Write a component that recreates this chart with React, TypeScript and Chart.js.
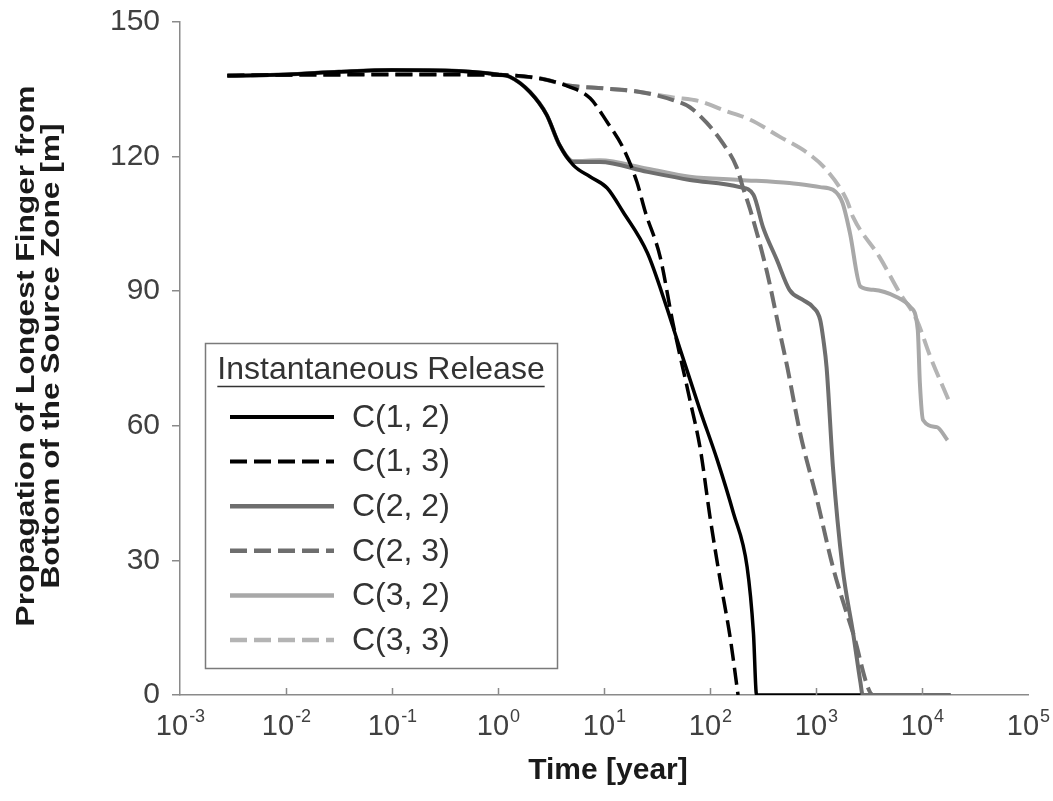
import React, { useEffect, useRef } from "react";
import { Chart, registerables } from "chart.js";

Chart.register(...registerables);

// ---- Data (time in years, propagation in m) ----
const LABELS = ["C(1, 2)", "C(1, 3)", "C(2, 2)", "C(2, 3)", "C(3, 2)", "C(3, 3)"];
const LEGEND_TITLE = "Instantaneous Release";
const X_TITLE = "Time [year]";
const Y_TITLE = ["Propagation of Longest Finger from", "Bottom of the Source Zone [m]"];
const X_DECADES = [1e-3, 1e-2, 1e-1, 1e0, 1e1, 1e2, 1e3, 1e4, 1e5];
const X_EXPONENTS = ["-3", "-2", "-1", "0", "1", "2", "3", "4", "5"];
const Y_TICKS = [0, 30, 60, 90, 120, 150];

const T_C12 = [0.0028, 0.01, 0.0316, 0.1, 0.316, 1, 1.29, 2.0, 2.88, 3.8, 5.13, 7.41, 10.7, 15.1, 25.7, 38.9, 49, 80.5, 117, 166, 224, 257, 275, 2630];
const V_C12 = [138, 138.3, 138.9, 139.3, 139.2, 138.3, 137.8, 134.4, 129.3, 122.6, 118.1, 115.5, 113, 107.7, 98.5, 86.5, 79.1, 63.5, 52.4, 40.6, 28.5, 13.8, 0, 0];

const T_C13 = [0.0028, 0.01, 0.1, 1, 2.5, 4.79, 7.41, 10.7, 15.1, 20.4, 24.5, 33.9, 44.7, 64.6, 81.3, 100, 124, 155, 184];
const V_C13 = [138.1, 138.2, 138.3, 138.2, 137.4, 135.5, 133, 127.7, 122, 114.4, 107.7, 97.6, 82.9, 65.8, 54.6, 39.7, 26, 12.8, 0];

const T_C22 = [0.0028, 0.01, 0.0316, 0.1, 0.316, 1, 1.29, 2.0, 2.88, 3.8, 5.13, 9.12, 25.7, 64.6, 191, 257, 316, 427, 562, 759, 933, 1096, 1175, 1259, 1445, 1778, 2239, 2630, 2754, 18600];
const V_C22 = [138, 138.3, 138.9, 139.3, 139.2, 138.3, 137.8, 134.4, 129.3, 122.6, 118.8, 118.8, 116.6, 114.8, 113.2, 111.5, 104.3, 97, 90.3, 88, 86.5, 83.6, 79.1, 73, 50.8, 28.5, 13.8, 2.7, 0, 0];

const T_C23 = [0.0028, 0.01, 0.1, 1, 2.5, 4.79, 10, 21.9, 44.7, 64.6, 93.3, 132, 178, 204, 240, 347, 457, 537, 708, 1023, 1445, 2239, 3467, 18600];
const V_C23 = [138.1, 138.2, 138.3, 138.2, 137.4, 135.8, 135.2, 134.4, 132.6, 131, 127.5, 123, 117.7, 113.2, 108.1, 94, 80.7, 73, 58.4, 43.5, 28.5, 13.8, 0, 0];

const T_C32 = [0.0028, 0.01, 0.0316, 0.1, 0.316, 1, 1.29, 2.0, 2.88, 3.8, 5.13, 9.12, 25.7, 64.6, 191, 562, 1096, 1445, 1778, 2089, 2630, 3467, 5754, 7762, 9120, 9550, 10230, 13800, 17400];
const V_C32 = [138, 138.3, 138.9, 139.3, 139.2, 138.3, 137.8, 134.4, 129.3, 122.6, 119, 119.2, 117.3, 115.5, 114.8, 114.1, 113.2, 112.6, 109.7, 103, 91, 90.3, 88.7, 86.5, 81.4, 69.5, 61.3, 59.7, 56.8];

const T_C33 = [0.0028, 0.01, 0.1, 1, 2.5, 4.79, 10, 21.9, 44.7, 81.3, 132, 240, 457, 832, 1259, 1950, 2239, 3981, 6166, 8913, 12020, 17780];
const V_C33 = [138.1, 138.2, 138.3, 138.2, 137.4, 135.8, 135.2, 134.4, 133.2, 132.3, 130.4, 128.2, 124.4, 120.8, 117, 110.3, 106.5, 97.6, 89.6, 83.6, 75.3, 65.8];

const SERIES_T = [T_C12, T_C13, T_C22, T_C23, T_C32, T_C33];
const SERIES_V = [V_C12, V_C13, V_C22, V_C23, V_C32, V_C33];
const COLORS = ["#000000", "#000000", "#6e6e6e", "#6e6e6e", "#a8a8a8", "#b4b4b4"];
const WIDTHS = [3.5, 3.5, 4, 4, 4, 4];
const DASHED = [false, true, false, true, false, true];

const FONT = "'Liberation Sans', Arial, sans-serif";
const AXIS_COLOR = "#8a8a8a";

const decorPlugin = {
  id: "decor",
  afterDraw(chart: any) {
    const ctx = chart.ctx as CanvasRenderingContext2D;
    const xs = chart.scales.x;
    const area = chart.chartArea;
    ctx.save();
    // inward x ticks
    ctx.strokeStyle = AXIS_COLOR;
    ctx.lineWidth = 1.5;
    X_DECADES.forEach((v, i) => {
      if (i === 0 || i === X_DECADES.length - 1) return;
      const px = Math.round(xs.getPixelForValue(v)) + 0.5;
      ctx.beginPath();
      ctx.moveTo(px, area.bottom);
      ctx.lineTo(px, area.bottom - 7);
      ctx.stroke();
    });
    // x tick labels with superscript exponents
    ctx.fillStyle = "#404040";
    ctx.textBaseline = "alphabetic";
    X_DECADES.forEach((v, i) => {
      const px = xs.getPixelForValue(v);
      ctx.font = `29px ${FONT}`;
      const wBase = ctx.measureText("10").width;
      ctx.font = `18px ${FONT}`;
      const wExp = ctx.measureText(X_EXPONENTS[i]).width;
      const left = px - (wBase + wExp) / 2;
      ctx.font = `29px ${FONT}`;
      ctx.textAlign = "left";
      ctx.fillText("10", left, area.bottom + 40);
      ctx.font = `18px ${FONT}`;
      ctx.fillText(X_EXPONENTS[i], left + wBase + 1, area.bottom + 27);
    });
    // x title
    ctx.fillStyle = "#1a1a1a";
    ctx.font = `bold 30px ${FONT}`;
    ctx.textAlign = "center";
    ctx.textBaseline = "middle";
    ctx.fillText(X_TITLE, (area.left + area.right) / 2 + 4, 771);
    // y title (two lines, rotated)
    ctx.font = `bold 26px ${FONT}`;
    ctx.textBaseline = "alphabetic";
    const yc = 356;
    [34, 59].forEach((bx, i) => {
      ctx.save();
      ctx.translate(bx, yc);
      ctx.rotate(-Math.PI / 2);
      ctx.scale(1.22, 1);
      ctx.fillText(Y_TITLE[i], 0, 0);
      ctx.restore();
    });
    // legend box
    const bx0 = 205, by0 = 343, bx1 = 557, by1 = 668;
    ctx.fillStyle = "#ffffff";
    ctx.fillRect(bx0, by0, bx1 - bx0, by1 - by0);
    ctx.strokeStyle = "#7a7a7a";
    ctx.lineWidth = 1.5;
    ctx.strokeRect(bx0 + 0.5, by0 + 0.5, bx1 - bx0, by1 - by0);
    ctx.fillStyle = "#333333";
    ctx.font = `32px ${FONT}`;
    ctx.textAlign = "left";
    ctx.textBaseline = "middle";
    const tw = ctx.measureText(LEGEND_TITLE).width;
    const tx = (bx0 + bx1) / 2 - tw / 2;
    ctx.fillText(LEGEND_TITLE, tx, 370);
    ctx.strokeStyle = "#333333";
    ctx.lineWidth = 1.5;
    ctx.beginPath();
    ctx.moveTo(tx, 386.5);
    ctx.lineTo(tx + tw, 386.5);
    ctx.stroke();
    chart.data.datasets.forEach((ds: any, i: number) => {
      const y = 417 + i * 44.6;
      ctx.strokeStyle = ds.borderColor;
      ctx.lineWidth = ds.borderWidth + 0.5;
      ctx.setLineDash(ds.borderDash || []);
      ctx.beginPath();
      ctx.moveTo(230, y);
      ctx.lineTo(334, y);
      ctx.stroke();
      ctx.setLineDash([]);
      ctx.fillStyle = "#333333";
      ctx.fillText(ds.label, 352, y + 1);
    });
    ctx.restore();
  },
};

export default function App() {
  const ref = useRef<HTMLCanvasElement | null>(null);
  useEffect(() => {
    document.body.style.margin = "0";
    const canvas = ref.current!;
    const datasets = LABELS.map((label, i) => ({
      label,
      data: SERIES_T[i].map((t, k) => ({ x: t, y: SERIES_V[i][k] })),
      borderColor: COLORS[i],
      backgroundColor: COLORS[i],
      borderWidth: WIDTHS[i],
      borderDash: DASHED[i] ? [17, 7] : [],
      pointRadius: 0,
      fill: false,
      cubicInterpolationMode: "monotone" as const,
    }));
    const chart = new Chart(canvas, {
      type: "line",
      data: { datasets },
      options: {
        animation: false,
        responsive: false,
        maintainAspectRatio: false,
        devicePixelRatio: 1,
        layout: { padding: { left: 0, right: 25, top: 22, bottom: 0 } },
        plugins: { legend: { display: false }, tooltip: { enabled: false } },
        scales: {
          x: {
            type: "logarithmic",
            min: 1e-3,
            max: 1e5,
            afterBuildTicks: (s: any) => {
              s.ticks = X_DECADES.map((v) => ({ value: v }));
            },
            afterFit: (s: any) => {
              s.height = 106;
              s.paddingLeft = 0;
              s.paddingRight = 0;
            },
            ticks: { display: false },
            grid: { display: false, drawTicks: false },
            border: { display: true, color: AXIS_COLOR, width: 1.5 },
          },
          y: {
            min: 0,
            max: 150,
            afterBuildTicks: (s: any) => {
              s.ticks = Y_TICKS.map((v) => ({ value: v }));
            },
            afterFit: (s: any) => {
              s.width = 180;
              s.paddingTop = 0;
              s.paddingBottom = 0;
            },
            ticks: { font: { family: FONT, size: 30 }, color: "#404040", padding: 12 },
            grid: { drawOnChartArea: false, drawTicks: true, tickLength: 8, color: AXIS_COLOR, lineWidth: 1.5 },
            border: { display: true, color: AXIS_COLOR, width: 1.5 },
          },
        },
      },
      plugins: [decorPlugin],
    });
    return () => chart.destroy();
  }, []);
  return (
    <div style={{ position: "fixed", left: 0, top: 0, width: 1053, height: 801, background: "#fff" }}>
      <canvas ref={ref} width={1053} height={801} style={{ display: "block" }} />
    </div>
  );
}
